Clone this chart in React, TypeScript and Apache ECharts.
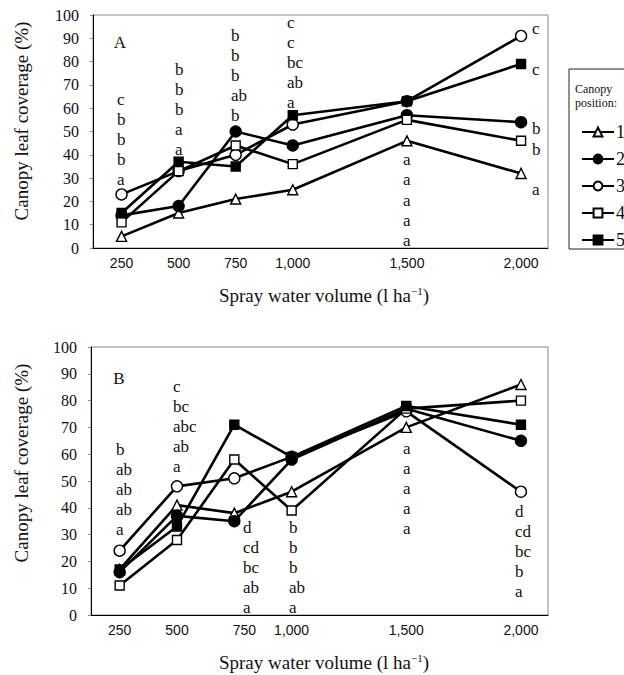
import React, { useEffect, useRef } from "react";
import * as echarts from "echarts";

// ---------- data ----------
const volumes = [250, 500, 750, 1000, 1500, 2000];
const xTickValues = [250, 500, 750, 1000, 1500, 2000];
const xTickTexts = ["250", "500", "750", "1,000", "1,500", "2,000"];
const positions = ["1", "2", "3", "4", "5"];

// Panel A
const coverageA1 = [5, 15, 21, 25, 46, 32];
const coverageA2 = [14, 18, 50, 44, 57, 54];
const coverageA3 = [23, 33, 40, 53, 63, 91];
const coverageA4 = [11, 33, 44, 36, 55, 46];
const coverageA5 = [15, 37, 35, 57, 63, 79];

// Panel B
const coverageB1 = [17, 41, 38, 46, 70, 86];
const coverageB2 = [16, 37, 35, 58, 77, 65];
const coverageB3 = [24, 48, 51, 59, 76, 46];
const coverageB4 = [11, 28, 58, 39, 77, 80];
const coverageB5 = [17, 33, 71, 59, 78, 71];

// Significance letters (columns, top to bottom)
const lettersA = [
  ["c", "b", "b", "b", "a"],
  ["b", "b", "b", "a", "a"],
  ["b", "b", "b", "ab", "b"],
  ["c", "c", "bc", "ab", "a"],
  ["a", "a", "a", "a", "a"],
];
const lettersAX = [229, 482, 731, 975, 1484];
const lettersATop = [64, 77, 91.4, 97, 38];
const lettersA2000 = ["c", "c", "b", "b", "a"];
const lettersA2000Y = [94.5, 77, 51.5, 42.5, 25.3];
const lettersA2000X = 2049;

const lettersB = [
  ["b", "ab", "ab", "ab", "a"],
  ["c", "bc", "abc", "ab", "a"],
  ["d", "cd", "bc", "ab", "a"],
  ["b", "b", "b", "ab", "a"],
  ["a", "a", "a", "a", "a"],
  ["d", "cd", "bc", "b", "a"],
];
const lettersBX = [236, 484, 790, 987, 1484, 1976];
const lettersBTop = [62, 85.3, 33, 33, 62.3, 38.7];

const SERIF = '"Liberation Serif", "Times New Roman", serif';
const SANS = '"Liberation Sans", Arial, sans-serif';

const symbolDefs = [
  { symbol: "triangle", fill: "#fff", size: 10 },
  { symbol: "circle", fill: "#000", size: 11 },
  { symbol: "circle", fill: "#fff", size: 11 },
  { symbol: "rect", fill: "#fff", size: 9 },
  { symbol: "rect", fill: "#000", size: 9 },
];

function lineSeries(name: string, values: number[], idx: number, grid: number) {
  const s = symbolDefs[idx];
  return {
    type: "line",
    name,
    xAxisIndex: grid,
    yAxisIndex: grid,
    data: volumes.map((v, i) => [v, values[i]]),
    symbol: s.symbol,
    symbolSize: s.size,
    showAllSymbol: true,
    lineStyle: { color: "#000", width: 2.6 },
    itemStyle: { color: s.fill, borderColor: "#000", borderWidth: 1.4 },
    emphasis: { disabled: true },
    z: 3,
  };
}

const STEP_A = 8.6;
const STEP_B = 7.46;

function buildLetterPoints() {
  const a: any[] = [];
  lettersA.forEach((col, c) => {
    col.forEach((t, i) => a.push([lettersAX[c], lettersATop[c] - i * STEP_A, t]));
  });
  lettersA2000.forEach((t, i) => a.push([lettersA2000X, lettersA2000Y[i], t]));
  const b: any[] = [];
  lettersB.forEach((col, c) => {
    col.forEach((t, i) => b.push([lettersBX[c], lettersBTop[c] - i * STEP_B, t]));
  });
  return { a, b };
}

function xAxisDef(grid: number) {
  return {
    type: "value",
    gridIndex: grid,
    min: 125,
    max: 2118,
    interval: 125,
    splitLine: { show: false },
    axisTick: { show: false },
    axisLine: { show: true, onZero: false, lineStyle: { color: "#000", width: 1 } },
    axisLabel: {
      margin: 8,
      fontFamily: SANS,
      fontSize: 14,
      color: "#111",
      showMinLabel: true,
      showMaxLabel: true,
      formatter: (v: number) => {
        const k = xTickValues.indexOf(v);
        if (k < 0) return "";
        if (grid === 1 && v === 750) return "{r|" + xTickTexts[k] + "}";
        return xTickTexts[k];
      },
      rich: { r: { fontFamily: SANS, fontSize: 14, color: "#111", padding: [0, 0, 0, 20] } },
    },
  };
}

function yAxisDef(grid: number) {
  return {
    type: "value",
    gridIndex: grid,
    min: 0,
    max: 100,
    interval: 10,
    splitLine: { show: false },
    axisTick: { show: true, length: 3, lineStyle: { color: "#888" } },
    axisLine: { show: true, lineStyle: { color: "#000", width: 1 } },
    axisLabel: { margin: 14, fontFamily: SERIF, fontSize: 16, color: "#111" },
  };
}

function titleText(y: number) {
  return {
    type: "text",
    x: 324,
    y,
    style: {
      text: "{n|Spray water volume (l ha}{s|−1}{n|)}",
      rich: {
        n: { fontFamily: SERIF, fontSize: 19, fill: "#111" },
        s: { fontFamily: SERIF, fontSize: 11, fill: "#111", padding: [0, 0, 9, 0] },
      },
      align: "center",
      verticalAlign: "middle",
    },
  };
}

export default function App() {
  const ref = useRef<HTMLDivElement>(null);

  useEffect(() => {
    if (!ref.current) return;
    const chart = echarts.init(ref.current, null, { renderer: "svg" });
    const { a, b } = buildLetterPoints();
    const seriesA = [coverageA1, coverageA2, coverageA3, coverageA4, coverageA5];
    const seriesB = [coverageB1, coverageB2, coverageB3, coverageB4, coverageB5];

    const baseGraphics: any[] = [
      {
        type: "rect",
        shape: { x: 569, y: 69, width: 90, height: 180 },
        style: { fill: "transparent", stroke: "#222", lineWidth: 1 },
        silent: true,
      },
      {
        type: "text",
        x: 575,
        y: 89,
        style: { text: "Canopy", fontFamily: SERIF, fontSize: 12, fill: "#111", align: "left", verticalAlign: "middle" },
      },
      {
        type: "text",
        x: 575,
        y: 103,
        style: { text: "position:", fontFamily: SERIF, fontSize: 12, fill: "#111", align: "left", verticalAlign: "middle" },
      },
      {
        type: "text",
        x: 120,
        y: 42,
        style: { text: "A", fontFamily: SERIF, fontSize: 17, fill: "#111", align: "center", verticalAlign: "middle" },
      },
      {
        type: "text",
        x: 119,
        y: 378,
        style: { text: "B", fontFamily: SERIF, fontSize: 17, fill: "#111", align: "center", verticalAlign: "middle" },
      },
      {
        type: "text",
        x: 21,
        y: 121,
        rotation: Math.PI / 2,
        style: { text: "Canopy leaf coverage (%)", fontFamily: SERIF, fontSize: 19, fill: "#111", align: "center", verticalAlign: "middle" },
      },
      {
        type: "text",
        x: 21,
        y: 463,
        rotation: Math.PI / 2,
        style: { text: "Canopy leaf coverage (%)", fontFamily: SERIF, fontSize: 19, fill: "#111", align: "center", verticalAlign: "middle" },
      },
      titleText(295),
      titleText(662),
    ];

    const option: any = {
      animation: false,
      backgroundColor: "#fff",
      grid: [
        { left: 93, top: 15, width: 455, height: 233, show: true, borderColor: "#888", borderWidth: 1, backgroundColor: "transparent" },
        { left: 91, top: 347, width: 457, height: 268, show: true, borderColor: "#888", borderWidth: 1, backgroundColor: "transparent" },
      ],
      xAxis: [xAxisDef(0), xAxisDef(1)],
      yAxis: [yAxisDef(0), yAxisDef(1)],
      legend: {
        data: positions,
        orient: "vertical",
        left: 576,
        top: 118,
        itemWidth: 32,
        itemHeight: 11,
        itemGap: 9,
        selectedMode: false,
        textStyle: { fontFamily: SERIF, fontSize: 18, color: "#111", padding: [0, 0, 0, -3] },
      },
      graphic: baseGraphics,
      series: [
        ...seriesA.map((vals, i) => lineSeries(positions[i], vals, i, 0)),
        ...seriesB.map((vals, i) => lineSeries(positions[i], vals, i, 1)),
      ],
    };
    chart.setOption(option);

    // significance letters placed through the axes' own scales
    const letterGraphics: any[] = [];
    const place = (pts: any[], gridIndex: number) => {
      pts.forEach((p) => {
        const px = chart.convertToPixel({ gridIndex } as any, [p[0], p[1]]) as number[];
        letterGraphics.push({
          type: "text",
          x: Math.round(px[0]),
          y: Math.round(px[1]),
          silent: true,
          style: {
            text: p[2],
            fontFamily: SERIF,
            fontSize: 17,
            fill: "#111",
            align: "left",
            verticalAlign: "middle",
          },
        });
      });
    };
    place(a, 0);
    place(b, 1);
    chart.setOption({ graphic: [...baseGraphics, ...letterGraphics] });

    return () => chart.dispose();
  }, []);

  return (
    <div
      ref={ref}
      style={{ position: "absolute", left: 0, top: 0, width: 624, height: 675, background: "#fff" }}
    />
  );
}
